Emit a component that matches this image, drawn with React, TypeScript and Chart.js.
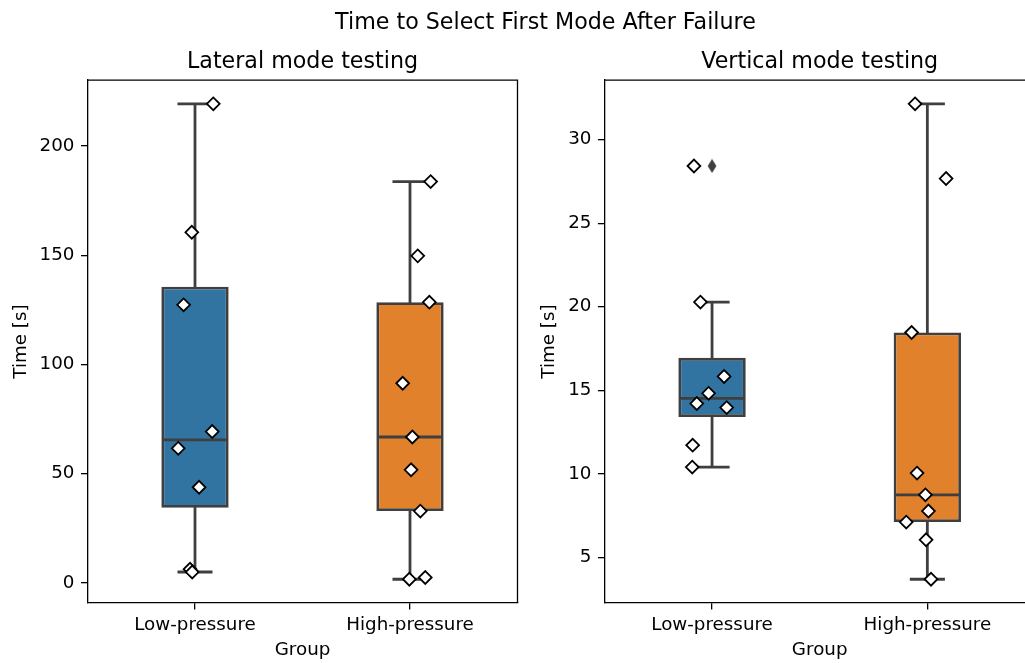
import React, { useEffect, useRef } from 'react';
import { Chart, registerables } from 'chart.js';

Chart.register(...registerables);

// ---------------- data ----------------
const suptitle = 'Time to Select First Mode After Failure';
const groups = ['Low-pressure', 'High-pressure'];
const boxColors = ['#3274a1', '#e1812c'];

const lateralLow = [219.3, 160.5, 127.3, 69.3, 61.6, 43.8, 6.3, 5.0];
const lateralLowJitter = [0.085, -0.015, -0.053, 0.08, -0.078, 0.019, -0.023, -0.013];
const lateralHigh = [183.7, 149.7, 128.5, 91.4, 66.8, 51.8, 32.9, 1.7, 2.5];
const lateralHighJitter = [0.096, 0.036, 0.09, -0.034, 0.011, 0.005, 0.048, -0.003, 0.071];

const verticalLow = [28.42, 20.28, 15.83, 14.82, 14.21, 13.97, 11.72, 10.41];
const verticalLowJitter = [-0.084, -0.054, 0.056, -0.016, -0.071, 0.068, -0.09, -0.092];
const verticalHigh = [32.14, 27.67, 18.46, 10.05, 8.75, 7.78, 7.12, 6.06, 3.7];
const verticalHighJitter = [-0.057, 0.087, -0.073, -0.048, -0.009, 0.005, -0.098, -0.006, 0.017];

const lateralTicks = [0, 50, 100, 150, 200];
const verticalTicks = [5, 10, 15, 20, 25, 30];

// ---------------- styles ----------------
const FONT = "'DejaVu Sans', sans-serif";
const lineGray = '#3f3f3f';
const BOX_WIDTH = 0.3;
const LW = 2.8;
const AX_LW = 1.3;
const tickFont = { family: FONT, size: 18.3 };
const titleFont = { family: FONT, size: 22.2, weight: 'normal' as const };

function quantile(sorted: number[], p: number) {
  const idx = (sorted.length - 1) * p;
  const lo = Math.floor(idx);
  const hi = Math.ceil(idx);
  return sorted[lo] + (sorted[hi] - sorted[lo]) * (idx - lo);
}

function boxStats(values: number[]) {
  const s = [...values].sort((a, b) => a - b);
  const q1 = quantile(s, 0.25);
  const med = quantile(s, 0.5);
  const q3 = quantile(s, 0.75);
  const iqr = q3 - q1;
  const inside = s.filter((v) => v >= q1 - 1.5 * iqr && v <= q3 + 1.5 * iqr);
  const fliers = s.filter((v) => v < q1 - 1.5 * iqr || v > q3 + 1.5 * iqr);
  return { q1, med, q3, lo: inside[0], hi: inside[inside.length - 1], fliers };
}

function makeThinDiamond() {
  const c = document.createElement('canvas');
  c.width = 10;
  c.height = 15;
  const g = c.getContext('2d')!;
  g.fillStyle = lineGray;
  g.beginPath();
  g.moveTo(5, 0.5);
  g.lineTo(9.4, 7.5);
  g.lineTo(5, 14.5);
  g.lineTo(0.6, 7.5);
  g.closePath();
  g.fill();
  return c;
}

const framePlugin = {
  id: 'frame',
  afterDraw(chart: any) {
    const { ctx, chartArea } = chart;
    const { left, top, right, bottom } = chartArea;
    ctx.save();
    ctx.strokeStyle = '#000';
    ctx.lineWidth = AX_LW;
    ctx.beginPath();
    ctx.moveTo(left, top);
    ctx.lineTo(right, top);
    ctx.lineTo(right, bottom);
    ctx.stroke();
    ctx.restore();
  },
};

type Panel = {
  title: string;
  series: number[][];
  jitter: number[][];
  ticks: number[];
  yAxisWidth: number;
  yTitlePad: number;
  padRight: number;
};

const panels: Panel[] = [
  {
    title: 'Lateral mode testing',
    series: [lateralLow, lateralHigh],
    jitter: [lateralLowJitter, lateralHighJitter],
    ticks: lateralTicks,
    yAxisWidth: 87.5,
    yTitlePad: 10,
    padRight: 12.5,
  },
  {
    title: 'Vertical mode testing',
    series: [verticalLow, verticalHigh],
    jitter: [verticalLowJitter, verticalHighJitter],
    ticks: verticalTicks,
    yAxisWidth: 79.4,
    yTitlePad: 13,
    padRight: 10,
  },
];

function makeConfig(p: Panel, flierImg: HTMLCanvasElement): any {
  const stats = p.series.map(boxStats);
  const all = p.series.flat();
  const mn = Math.min(...all);
  const mx = Math.max(...all);
  const margin = (mx - mn) * 0.05;
  const half = BOX_WIDTH / 2;
  const cap = BOX_WIDTH / 4;

  const whiskers: any[] = [];
  const medians: any[] = [];
  stats.forEach((s, i) => {
    whiskers.push(
      { x: i, y: s.q3 }, { x: i, y: s.hi }, { x: i, y: null },
      { x: i, y: s.q1 }, { x: i, y: s.lo }, { x: i, y: null },
      { x: i - cap, y: s.hi }, { x: i + cap, y: s.hi }, { x: i, y: null },
      { x: i - cap, y: s.lo }, { x: i + cap, y: s.lo }, { x: i, y: null },
    );
    medians.push({ x: i - half, y: s.med }, { x: i + half, y: s.med }, { x: i, y: null });
  });

  const pointSets = p.series.map((vals, gi) => ({
    type: 'scatter',
    order: 0,
    data: vals.map((v, k) => ({ x: gi + p.jitter[gi][k], y: v })),
    pointStyle: 'rectRot',
    pointRadius: 6.4,
    backgroundColor: '#ffffff',
    borderColor: '#000000',
    borderWidth: 1.8,
  }));

  const flierData: any[] = [];
  stats.forEach((s, i) => s.fliers.forEach((v) => flierData.push({ x: i, y: v })));

  const axisCommon = {
    grid: { drawOnChartArea: false, drawTicks: true, tickLength: 6.5, color: '#000', lineWidth: AX_LW, offset: false },
    border: { display: true, color: '#000', width: AX_LW },
  };

  return {
    type: 'scatter',
    data: {
      datasets: [
        ...pointSets,
        {
          type: 'scatter',
          order: 1,
          data: flierData,
          pointStyle: flierImg,
          pointRadius: 5,
        },
        {
          type: 'line',
          order: 2,
          data: whiskers,
          borderColor: lineGray,
          borderWidth: LW,
          borderCapStyle: 'square',
          pointRadius: 0,
          spanGaps: false,
          fill: false,
        },
        {
          type: 'line',
          order: 2,
          data: medians,
          borderColor: lineGray,
          borderWidth: LW,
          borderCapStyle: 'butt',
          pointRadius: 0,
          spanGaps: false,
          fill: false,
        },
        {
          type: 'bar',
          order: 3,
          data: stats.map((s, i) => ({ x: i, y: [s.q1, s.q3] })),
          backgroundColor: boxColors,
          borderColor: lineGray,
          borderWidth: LW,
          borderSkipped: false,
          barPercentage: BOX_WIDTH + LW / 215,
          categoryPercentage: 1,
        },
      ],
    },
    options: {
      animation: false,
      responsive: false,
      devicePixelRatio: 1,
      events: [],
      layout: { padding: { left: 0, right: p.padRight, top: 0, bottom: 0 } },
      plugins: {
        legend: { display: false },
        tooltip: { enabled: false },
        title: {
          display: true,
          text: p.title,
          fullSize: false,
          color: '#000',
          font: titleFont,
          padding: { top: 49.4, bottom: 4.0 },
        },
      },
      scales: {
        x: {
          type: 'linear',
          min: -0.5,
          max: 1.5,
          offset: false,
          afterBuildTicks: (sc: any) => {
            sc.ticks = groups.map((_, i) => ({ value: i }));
          },
          afterFit: (sc: any) => {
            sc.height = 60;
          },
          ticks: {
            autoSkip: false,
            maxRotation: 0,
            color: '#000',
            font: tickFont,
            padding: 5,
            callback: (_v: any, idx: number) => groups[idx],
          },
          title: {
            display: true,
            text: 'Group',
            color: '#000',
            font: tickFont,
            padding: { top: 0, bottom: 1.3 },
          },
          ...axisCommon,
        },
        y: {
          type: 'linear',
          min: mn - margin,
          max: mx + margin,
          beginAtZero: false,
          afterBuildTicks: (sc: any) => {
            sc.ticks = p.ticks.map((v) => ({ value: v }));
          },
          afterFit: (sc: any) => {
            sc.width = p.yAxisWidth;
          },
          ticks: { color: '#000', font: tickFont, padding: 6.5 },
          title: {
            display: true,
            text: 'Time [s]',
            color: '#000',
            font: tickFont,
            padding: { top: p.yTitlePad, bottom: 0 },
          },
          ...axisCommon,
        },
      },
    },
    plugins: [framePlugin],
  };
}

function PanelChart({ panel, left, width }: { panel: Panel; left: number; width: number }) {
  const ref = useRef<HTMLCanvasElement | null>(null);
  useEffect(() => {
    if (!ref.current) return;
    const chart = new Chart(ref.current, makeConfig(panel, makeThinDiamond()));
    return () => chart.destroy();
  }, [panel]);
  return (
    <canvas
      ref={ref}
      width={width}
      height={663}
      style={{ position: 'absolute', left, top: 0, width, height: 663 }}
    />
  );
}

export default function App() {
  return (
    <div
      style={{
        position: 'absolute',
        left: 0,
        top: 0,
        width: 1025,
        height: 663,
        overflow: 'hidden',
        background: '#fff',
      }}
    >
      <PanelChart panel={panels[0]} left={0} width={530} />
      <PanelChart panel={panels[1]} left={525} width={520} />
      <div
        style={{
          position: 'absolute',
          left: 0,
          top: 8.3,
          width: 1091,
          textAlign: 'center',
          fontFamily: FONT,
          fontSize: 22.2,
          lineHeight: '26px',
          color: '#000',
          whiteSpace: 'nowrap',
        }}
      >
        {suptitle}
      </div>
    </div>
  );
}
